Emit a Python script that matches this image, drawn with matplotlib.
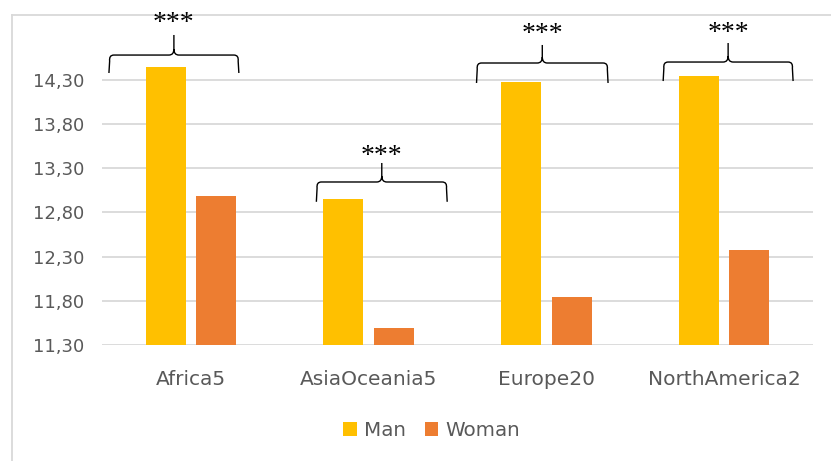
import matplotlib
matplotlib.use("Agg")
import matplotlib.pyplot as plt
import numpy as np
from matplotlib.path import Path
from matplotlib.patches import PathPatch, Patch
from matplotlib.lines import Line2D

# ---- data ----
categories = ["Africa5", "AsiaOceania5", "Europe20", "NorthAmerica2"]
man = [14.45, 12.95, 14.27, 14.34]
woman = [12.99, 11.49, 11.84, 12.37]
series_names = ["Man", "Woman"]
yticks = [11.30, 11.80, 12.30, 12.80, 13.30, 13.80, 14.30]
sig_labels = ["***", "***", "***", "***"]

# bracket annotation geometry (data coordinates)
br_left = [-0.461, 0.706, 1.607, 2.657]
br_right = [0.270, 1.442, 2.347, 3.388]
br_end_y = [14.377, 12.920, 14.264, 14.286]
br_mid_y = [14.580, 13.144, 14.490, 14.501]
br_tip_y = [14.807, 13.359, 14.694, 14.716]
star_y = [15.010, 13.506, 14.886, 14.897]

W, H = 831, 461
fig = plt.figure(figsize=(W / 100, H / 100), dpi=100)
ymin, ymax = 11.3, 14.8
px_per_unit = 88.4
ax_left, ax_right = 102, 813
ax_bottom = 345
ax_top = ax_bottom - (ymax - ymin) * px_per_unit
ax = fig.add_axes([ax_left / W, 1 - ax_bottom / H, (ax_right - ax_left) / W, (ax_bottom - ax_top) / H])
ax.patch.set_alpha(0)

text_col = "#595959"
x = np.arange(len(categories))
bw = 0.225
off = 0.142
ax.bar(x - off, np.array(man) - ymin, bw, bottom=ymin, color="#FFC000", zorder=3, label=series_names[0])
ax.bar(x + off, np.array(woman) - ymin, bw, bottom=ymin, color="#ED7D31", zorder=3, label=series_names[1])

ax.set_xlim(-0.5, len(categories) - 0.5)
ax.set_ylim(ymin, ymax)
ax.set_yticks(yticks)
ax.set_yticklabels([f"{v:.2f}".replace(".", ",") for v in yticks])
ax.set_xticks(x)
ax.set_xticklabels(categories)
for s in ax.spines.values():
    s.set_visible(False)
ax.tick_params(axis="both", length=0, colors=text_col)
ax.tick_params(axis="y", labelsize=13, pad=13)
ax.tick_params(axis="x", labelsize=14.5, pad=18)
ax.grid(axis="y", color="#D9D9D9", linewidth=1.3, zorder=0)
ax.set_axisbelow(True)
for lbl in ax.get_xticklabels() + ax.get_yticklabels():
    lbl.set_family("DejaVu Sans")

# brackets
rx = 0.028
ry = 0.068
for i in range(len(categories)):
    x0, x1 = br_left[i], br_right[i]
    xc = (x0 + x1) / 2
    yb, yh, yt = br_end_y[i], br_mid_y[i], br_tip_y[i]
    verts = [
        (x0, yb), (x0 + 0.004, yh - ry),
        (x0, yh), (x0 + rx, yh),
        (xc - rx, yh),
        (xc, yh), (xc, yh + ry),
        (xc, yt),
        (xc, yh + ry),
        (xc, yh), (xc + rx, yh),
        (x1 - rx, yh),
        (x1, yh), (x1 - 0.004, yh - ry),
        (x1, yb),
    ]
    codes = [
        Path.MOVETO, Path.LINETO,
        Path.CURVE3, Path.CURVE3,
        Path.LINETO,
        Path.CURVE3, Path.CURVE3,
        Path.LINETO,
        Path.MOVETO,
        Path.CURVE3, Path.CURVE3,
        Path.LINETO,
        Path.CURVE3, Path.CURVE3,
        Path.LINETO,
    ]
    ax.add_patch(PathPatch(Path(verts, codes), facecolor="none", edgecolor="black",
                           linewidth=1.0, clip_on=False, zorder=5))
    ax.text(xc, star_y[i] - 0.145, sig_labels[i], ha="center", va="baseline",
            fontsize=20, family="Liberation Serif", color="black", clip_on=False, zorder=6)

# chart border (top and left visible), drawn beneath the axes content
border_col = "#D9D9D9"
fig.add_artist(Line2D([12 / W, 12 / W], [0, 1 - 15 / H], transform=fig.transFigure,
                      color=border_col, linewidth=1.3, zorder=-5))
fig.add_artist(Line2D([12 / W, 1], [1 - 15 / H, 1 - 15 / H], transform=fig.transFigure,
                      color=border_col, linewidth=1.3, zorder=-5))

handles = [Patch(facecolor="#FFC000"), Patch(facecolor="#ED7D31")]
leg = fig.legend(handles, series_names, loc="center", bbox_to_anchor=(431.5 / W, 1 - 430 / H),
                 ncol=2, frameon=False, fontsize=14.3, handlelength=0.7, handleheight=0.7,
                 handletextpad=0.35, columnspacing=0.95, borderpad=0)
for t in leg.get_texts():
    t.set_color(text_col)

fig.savefig("out.png", dpi=100, facecolor="white")
